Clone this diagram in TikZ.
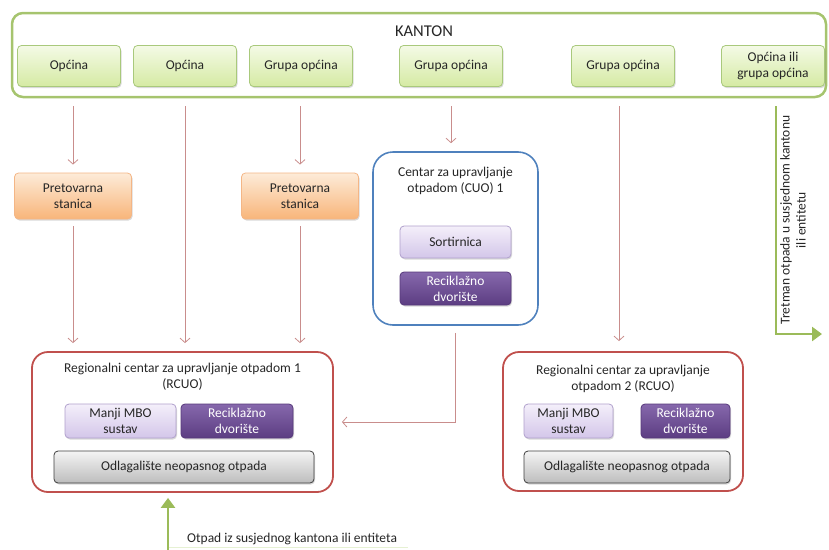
\documentclass[tikz,border=0pt]{standalone}
\usepackage{fontspec}
\setmainfont{Carlito}
\usetikzlibrary{arrows.meta,shadows}
\definecolor{grn}{HTML}{9BBB59}
\definecolor{kgrn}{HTML}{A6C46E}
\definecolor{lgrn}{HTML}{E6F1D3}
\definecolor{topT}{HTML}{F4FAE6}
\definecolor{topB}{HTML}{D5EAA3}
\definecolor{topD}{HTML}{A9C97C}
\definecolor{orT}{HTML}{FDEBD8}
\definecolor{orB}{HTML}{F8B57A}
\definecolor{orD}{HTML}{F4B686}
\definecolor{lavT}{HTML}{F4EFFA}
\definecolor{lavB}{HTML}{D3C6E9}
\definecolor{lavD}{HTML}{B0A0CC}
\definecolor{purT}{HTML}{8668AC}
\definecolor{purB}{HTML}{5C3D82}
\definecolor{purD}{HTML}{57397B}
\definecolor{gryT}{HTML}{F4F4F4}
\definecolor{gryB}{HTML}{BDBDBD}
\definecolor{gryD}{HTML}{3F3F3F}
\definecolor{redc}{HTML}{C0504D}
\definecolor{bluec}{HTML}{4F81BD}
\definecolor{arrc}{HTML}{C98D8C}
\definecolor{txt}{HTML}{262626}
\begin{document}
\begin{tikzpicture}[x=1pt,y=-1pt,
  font=\fontsize{13.5}{16}\selectfont, text=txt,
  box/.style={rounded corners=4pt, inner sep=0pt, align=center, line width=0.8pt,
    drop shadow={shadow xshift=1pt, shadow yshift=-1.5pt, opacity=0.3}},
  topbox/.style={box, draw=topD, top color=topT, bottom color=topB, minimum width=103pt, minimum height=41pt},
  orbox/.style={box, draw=orD, top color=orT, bottom color=orB, minimum width=117pt, minimum height=46pt},
  lavbox/.style={box, draw=lavD, top color=lavT, bottom color=lavB},
  purbox/.style={box, draw=purD, top color=purT, bottom color=purB, text=white},
  grybox/.style={box, draw=gryD, top color=gryT, bottom color=gryB, minimum height=32pt},
  center/.style={draw=redc, line width=1.8pt, rounded corners=16pt, inner sep=0pt},
  title/.style={align=center, inner sep=0pt},
  rarr/.style={draw=arrc, line width=0.8pt, -{Straight Barb[length=4.5pt,width=10pt]}},
  garr/.style={draw=grn, line width=2.8pt, -{Triangle[length=10pt,width=14pt]}}
]
\useasboundingbox (0,0) rectangle (829,549);

% KANTON
\node[draw=kgrn, line width=2.5pt, rounded corners=11pt, minimum width=814pt, minimum height=84pt, inner sep=0pt] (kanton) at (419,55) {};
\node[font=\fontsize{16.5}{18}\selectfont, inner sep=0pt] (kantonlbl) at (424,31) {KANTON};
\coordinate (r) at (0,106);

\node[topbox] (o1) at (69,66) {Općina};
\node[topbox] (o2) at (185,66) {Općina};
\node[topbox] (o3) at (301,66) {Grupa općina};
\node[topbox] (o4) at (451,66) {Grupa općina};
\node[topbox] (o5) at (623,66) {Grupa općina};
\node[topbox] (o6) at (773,66) {Općina ili\\grupa općina};

% Pretovarna
\node[orbox] (p1) at (73,196) {Pretovarna\\stanica};
\node[orbox] (p2) at (300,196) {Pretovarna\\stanica};

% CUO
\node[draw=bluec, line width=1.6pt, rounded corners=20pt, minimum width=165pt, minimum height=173pt, inner sep=0pt] (cuo) at (455.5,238.5) {};
\node[title] (cuot) at (455.5,181) {Centar za upravljanje\\otpadom (CUO) 1};
\node[lavbox, minimum width=111pt, minimum height=32pt] (sort) at (455.5,242) {Sortirnica};
\node[purbox, minimum width=111pt, minimum height=33pt] (rcuo) at (455.5,288.5) {Reciklažno\\dvorište};

% RCUO 1
\node[center, minimum width=301pt, minimum height=140pt] (rc1) at (182.5,422) {};
\node[title] (rc1t) at (182.5,377) {Regionalni centar za upravljanje otpadom 1\\(RCUO)};
\node[lavbox, minimum width=111pt, minimum height=34pt] (mbo1) at (120.5,421) {Manji MBO\\sustav};
\node[purbox, minimum width=112pt, minimum height=34pt] (rec1) at (237,421) {Reciklažno\\dvorište};
\node[grybox, minimum width=260pt] (odl1) at (184,467) {Odlagalište neopasnog otpada};

% RCUO 2
\node[center, minimum width=240pt, minimum height=139pt] (rc2) at (623,421.5) {};
\node[title] (rc2t) at (623,379) {Regionalni centar za upravljanje\\otpadom 2 (RCUO)};
\node[lavbox, minimum width=89pt, minimum height=34pt] (mbo2) at (568.5,421) {Manji MBO\\sustav};
\node[purbox, minimum width=89pt, minimum height=34pt] (rec2) at (685.5,421) {Reciklažno\\dvorište};
\node[grybox, minimum width=206pt] (odl2) at (627,467) {Odlagalište neopasnog otpada};

% arrows from top
\draw[rarr, shorten >=8pt] (p1.north |- r) -- (p1.north);
\draw[rarr, shorten >=8pt] (o2.south |- r) -- (o2.south |- rc1.north);
\draw[rarr, shorten >=8pt] (p2.north |- r) -- (p2.north);
\draw[rarr, shorten >=8pt] (o4.south |- r) -- (o4.south |- cuo.north);
\draw[rarr, shorten >=10pt] ([xshift=-4pt]o5.south |- r) -- ([xshift=-4pt]o5.south |- rc2.north);

\draw[rarr, shorten >=8pt] ([yshift=-7pt]p1.south) -- (p1.south |- rc1.north);
\draw[rarr, shorten >=8pt] ([yshift=-7pt]p2.south) -- (p2.south |- rc1.north);
\draw[rarr, shorten >=8pt] ([yshift=-7pt]cuo.south) |- (rc1.east);

% green arrows
\coordinate (tr) at (822,334);
\draw[garr] ([xshift=3pt]o6.south |- r) |- (tr);
\node[rotate=90, title] (ttxt) at (793,220) {Tretman otpada u susjednom kantonu\\ili entitetu};

\coordinate (bin) at (168,552);
\coordinate (bl) at (408,547);
\draw[lgrn, line width=1pt] (bin |- bl) -- (bl);
\draw[garr, shorten >=5pt] (bin) -- (bin |- rc1.south);
\node[anchor=west, inner sep=0pt] (btxt) at (187,539) {Otpad iz susjednog kantona ili entiteta};
\end{tikzpicture}
\end{document}
